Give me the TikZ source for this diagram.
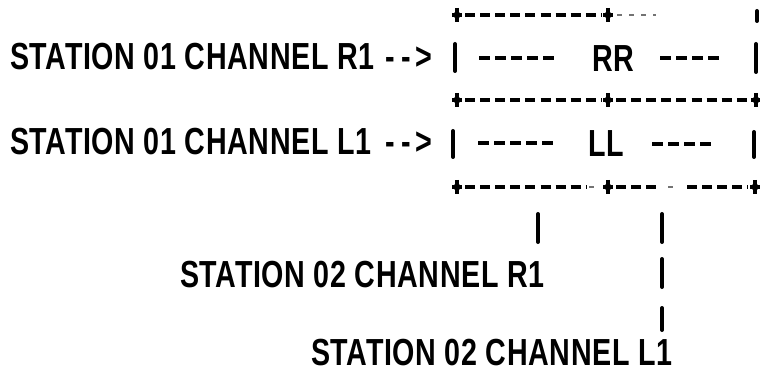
\documentclass[tikz,border=0pt]{standalone}
\usepackage{fontspec}
\newfontfamily\plotfont{Liberation Sans}[FakeStretch=0.76, LetterSpace=1.6]
\tikzset{
  lbl/.style={font=\plotfont\bfseries\fontsize{37.7}{40}\selectfont, inner sep=0pt, anchor=base west},
  border/.style={line width=3.4pt, dash pattern=on 10pt off 5.1pt},
  faded/.style={line width=2.4pt, black!55, dash pattern=on 5pt off 7pt},
  rowdash/.style={line width=3.6pt, dash pattern=on 11pt off 5pt},
  pipe/.style={line width=4pt, line cap=round},
  crossmark/.pic={\draw[line width=3.6pt] (-5,0) -- (5,0) (0,-7) -- (0,7);
                  \fill (0,0) ellipse (3.2pt and 4pt);}
}
\begin{document}
\begin{tikzpicture}[x=1pt,y=-1pt]
\useasboundingbox (0,0) rectangle (760,374);
% labels
\node[lbl] (s1r) at (10,70) {STATION 01 CHANNEL R1};
\node[lbl, anchor=base east] (a1) at (432,70) {-\kern6pt-\kern4pt>};
\node[lbl] (s1l) at (10,155) {STATION 01 CHANNEL L1};
\node[lbl, anchor=base east] (a2) at (432,155) {-\kern6pt-\kern4pt>};
\node[lbl] (s2r) at (180,287) {STATION 02 CHANNEL R1};
\node[lbl] (s2l) at (311,365) {STATION 02 CHANNEL L1};
% top border
\pic at (457,15) {crossmark};
\pic at (608,15) {crossmark};
\draw[border] (465,15) -- (602,15);
\draw[faded] (617,15) -- (656,15);
\draw[pipe] (757,11) -- (757,21);
% row RR
\draw[pipe] (455,44) -- (455,71);
\draw[rowdash] (479,58) -- (556,58);
\node[lbl] (rr) at (592,72) {RR};
\draw[rowdash] (660,58) -- (721,58);
\draw[pipe] (756,44) -- (756,72);
% middle border
\pic at (457,100) {crossmark};
\pic at (608,100) {crossmark};
\pic at (756,100) {crossmark};
\draw[border] (465,100) -- (602,100);
\draw[border] (616,100) -- (750,100);
% row LL
\draw[pipe] (453,131) -- (453,157);
\draw[rowdash] (478,143) -- (556,143);
\node[lbl] (ll) at (588,157) {LL};
\draw[rowdash] (652,144) -- (715,144);
\draw[pipe] (754,132) -- (754,157);
% bottom border
\pic at (457,187) {crossmark};
\pic at (608,187) {crossmark};
\pic at (755,187) {crossmark};
\draw[border] (465,187) -- (586,187);
\draw[faded] (589,187) -- (596,187);
\draw[border] (616,187) -- (658,187);
\draw[faded] (668,187) -- (673,187);
\draw[border] (687,187) -- (748,187);
% connectors down to station 02
\draw[pipe] (538,214) -- (538,242);
\draw[pipe] (662,214) -- (662,242);
\draw[pipe] (662,259) -- (662,287);
\draw[pipe] (662,308) -- (662,330);
\end{tikzpicture}
\end{document}
